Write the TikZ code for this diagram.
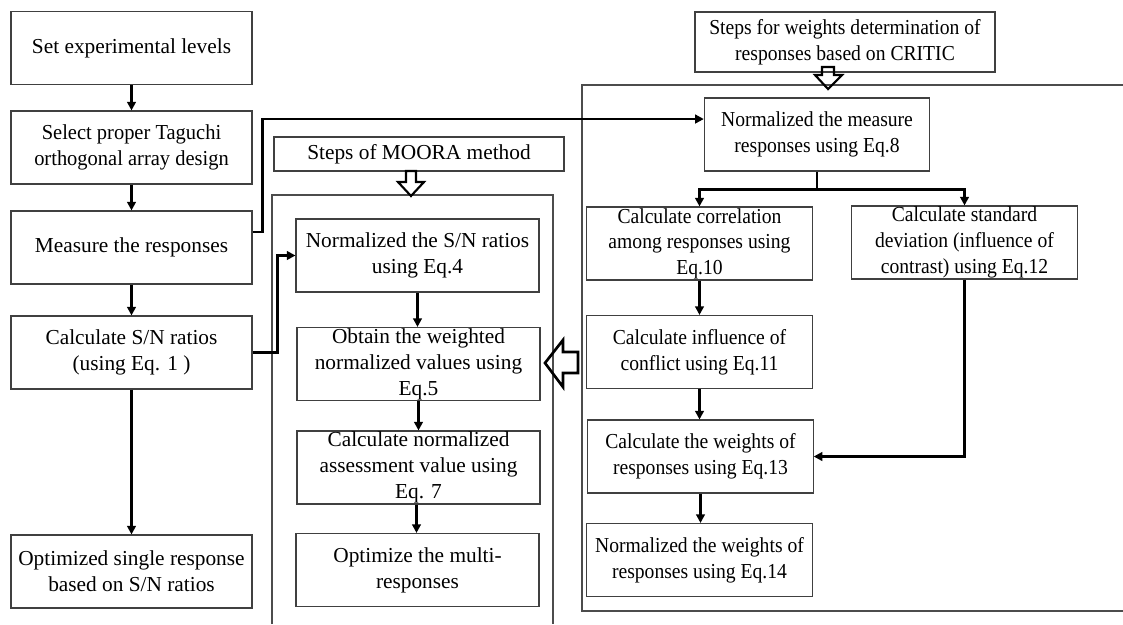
\documentclass[tikz,border=0pt]{standalone}
\usepackage{fontspec}
\setmainfont{Liberation Serif}
\newfontfamily\narrowfont[FakeStretch=0.92]{Liberation Serif}
\newfontfamily\semifont[FakeStretch=0.96]{Liberation Serif}
\usetikzlibrary{arrows.meta}
\tikzset{
  box/.style={draw=black!75, line width=0.8pt, inner sep=0pt, align=center,
    font=\fontsize{16}{19.4}\selectfont},
  lbox/.style={box, minimum width=180.75pt, minimum height=54.75pt},
  mbox/.style={box, minimum width=182.25pt, minimum height=54.75pt},
  cbox/.style={box, minimum width=169pt, minimum height=54.75pt,
    font=\fontsize{16}{19.2}\narrowfont},
  conn/.style={line width=2pt, -{Triangle[length=6.5pt,width=6.5pt]}},
  plain/.style={line width=2pt},
  frame/.style={draw=black!70, line width=1.3pt},
  hollow/.style={draw=black, line width=1.6pt, line join=miter}
}
\begin{document}
\begin{tikzpicture}[x=0.75pt,y=-0.75pt]
\useasboundingbox (0,0) rectangle (1123,624);

% containers
\draw[frame] (272,624) -- (272,195) -- (553,195) -- (553,624);
\draw[frame] (1123,85) -- (582,85) -- (582,611) -- (1123,611);

% left column
\node[lbox] (L1) at (131.5,48) {Set experimental levels};
\node[lbox, font=\fontsize{16}{19.4}\semifont] (L2) at (131.5,147.5) {Select proper Taguchi\\orthogonal array design};
\node[lbox] (L3) at (131.5,247.5) {Measure the responses};
\node[lbox] (L4) at (131.5,352.5) {Calculate S/N ratios\\(using Eq. 1 )};
\node[lbox] (L5) at (131.5,571.5) {Optimized single response\\based on S/N ratios};

% MOORA
\node[box, minimum width=217.5pt, minimum height=25.5pt] (MT) at (419,154) {Steps of MOORA method};
\node[mbox] (M1) at (417.5,255.5) {Normalized the S/N ratios\\using Eq.4};
\node[mbox] (M2) at (418.5,364) {Obtain the weighted\\normalized values using\\Eq.5};
\node[mbox] (M3) at (418.5,467.5) {Calculate normalized\\assessment value using\\Eq. 7};
\node[mbox] (M4) at (417.5,570) {Optimize the multi-\\responses};

% CRITIC
\node[box, minimum width=225pt, minimum height=45pt, font=\fontsize{16}{19.4}\narrowfont] (CT) at (845,42) {Steps for weights determination of\\responses based on CRITIC};
\node[cbox] (C1) at (817,134.5) {Normalized the measure\\responses using Eq.8};
\node[cbox] (C2) at (699.5,243.5) {Calculate correlation\\among responses using\\Eq.10};
\node[cbox] (C3) at (964.5,242.5) {Calculate standard\\deviation (influence of\\contrast) using Eq.12};
\node[cbox] (C4) at (699.5,352) {Calculate influence of\\conflict using Eq.11};
\node[cbox] (C5) at (700.5,456.5) {Calculate the weights of\\responses using Eq.13};
\node[cbox] (C6) at (699.5,560) {Normalized the weights of\\responses using Eq.14};

% left column arrows
\draw[conn] (L1) -- (L2);
\draw[conn] (L2) -- (L3);
\draw[conn] (L3) -- (L4);
\draw[conn] (L4) -- (L5);

% to CRITIC and MOORA
\draw[conn] ([yshift=11.6pt]L3.east) -- ++(10,0) |- ([yshift=11.6pt]C1.west);
\draw[conn] (L4.east) -- ++(25,0) |- (M1.west);

% MOORA arrows
\draw[conn] (M1.south) -- (M1.south |- M2.north);
\draw[conn] (M2.south) -- (M2.south |- M3.north);
\draw[conn] ([xshift=-1.5pt]M3.south) -- ([xshift=-1.5pt]M3.south |- M4.north);

% CRITIC arrows
\draw[plain] (C1.south) -- ++(0,18) coordinate (split);
\draw[conn] (split) -| (C2.north);
\draw[conn] (split) -| (C3.north);
\draw[conn] (C2) -- (C4);
\draw[conn] (C4.south) -- (C4.south |- C5.north);
\draw[conn] (C5.south) -- (C5.south |- C6.north);
\draw[conn] (C3.south) |- (C5.east);

% hollow arrows
\draw[hollow] (406,171) -- (406,182) -- (398,182) -- (411,196) -- (424,182) -- (416,182) -- (416,171) -- cycle;
\draw[hollow] (822,67) -- (822,75) -- (815,75) -- (828,89) -- (842,75) -- (834,75) -- (834,67) -- cycle;
\draw[hollow, line width=2pt] (545,363) -- (563,340) -- (563,352) -- (578,352) -- (578,373) -- (563,373) -- (563,387) -- cycle;
\end{tikzpicture}
\end{document}
